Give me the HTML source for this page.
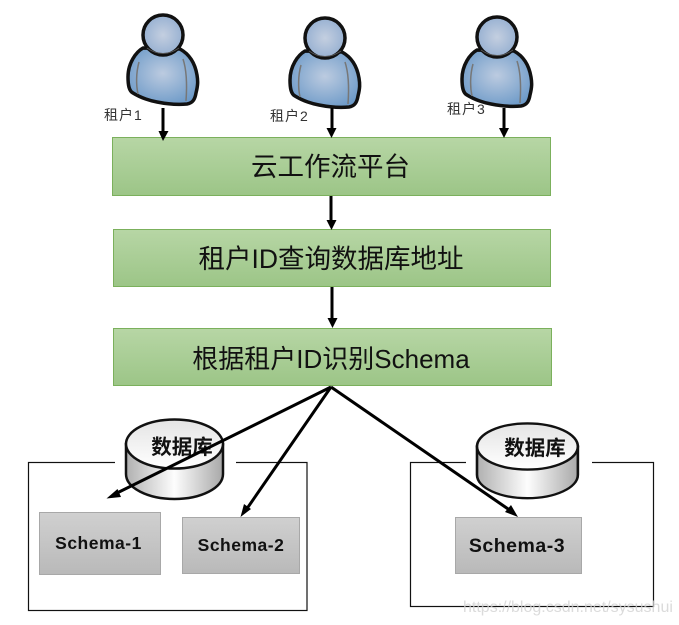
<!DOCTYPE html>
<html><head><meta charset="utf-8"><style>
html,body{margin:0;padding:0;background:#fff;width:679px;height:625px;overflow:hidden}
svg{display:block}
text{font-family:"Liberation Sans","Noto Sans CJK SC",sans-serif}
</style></head><body>
<svg width="679" height="625" viewBox="0 0 679 625" xmlns="http://www.w3.org/2000/svg">
<defs>
<linearGradient id="g" x1="0" y1="0" x2="0" y2="1"><stop offset="0" stop-color="#b7d6a5"/><stop offset="1" stop-color="#9cc587"/></linearGradient>
<linearGradient id="s" x1="0" y1="0" x2="0" y2="1"><stop offset="0" stop-color="#d0d0d0"/><stop offset="1" stop-color="#b9b9b9"/></linearGradient>
<linearGradient id="c" x1="0" y1="0" x2="1" y2="0"><stop offset="0" stop-color="#b0b0b0"/><stop offset=".5" stop-color="#fdfdfd"/><stop offset="1" stop-color="#a8a8a8"/></linearGradient>
<linearGradient id="ct" x1="0" y1="0" x2="0" y2="1"><stop offset="0" stop-color="#e4e4e4"/><stop offset="1" stop-color="#fff"/></linearGradient>
<radialGradient id="b" cx=".5" cy=".45" r=".6"><stop offset="0" stop-color="#bccbe0"/><stop offset="1" stop-color="#6d9ac8"/></radialGradient>
<radialGradient id="h" cx=".5" cy=".5" r=".6"><stop offset="0" stop-color="#c4cfe0"/><stop offset="1" stop-color="#8fabcf"/></radialGradient>
<g id="p">
<path d="M-20 13C-27 17-35 28-35 42C-35 50-34 56-30 58C-22 63-12 66-6 67C4 69 14 70 24 69C30 68 32 64 33 58C35 50 35 46 34 40C32 28 26 19 17 14Z" fill="url(#b)" stroke="#111" stroke-width="3.500" stroke-linejoin="round"/>
<path d="M-24 27C-27 38-27 50-25 59M20 24C24 36 24 52 23 66" fill="none" stroke="#777" stroke-width="1.500"/>
<circle cx="0" cy="0" r="20" fill="url(#h)" stroke="#111" stroke-width="3.500"/>
<path d="M-16 13Q0 24 16 13" fill="none" stroke="#555" stroke-width="1"/>
</g>
<g id="cy">
<path d="M0 25V55C0 69 22 80 48.500 80C75 80 97 69 97 55V25Z" fill="url(#c)" stroke="#111" stroke-width="2.500"/>
<ellipse cx="48.500" cy="25" rx="48.500" ry="24.500" fill="url(#ct)" stroke="#111" stroke-width="2.500"/>
</g>
</defs>

<use href="#p" x="163" y="35"/>
<use href="#p" x="325" y="38"/>
<use href="#p" x="497" y="37"/>

<g fill="#333" font-size="14" letter-spacing="1">
<text x="104" y="120">租户1</text>
<text x="270" y="121">租户2</text>
<text x="447" y="114">租户3</text>
</g>

<g fill="url(#g)" stroke="#7bb05c" stroke-width="1">
<rect x="112.500" y="137.500" width="438" height="58"/>
<rect x="113.500" y="229.500" width="437" height="57"/>
<rect x="113.500" y="328.500" width="438" height="57"/>
</g>
<g fill="#111" text-anchor="middle" font-size="26.500">
<text x="330.500" y="176">云工作流平台</text>
<text x="331" y="268">租户ID查询数据库地址</text>
<text x="331" y="368" font-size="26">根据租户ID识别Schema</text>
</g>

<rect x="28.500" y="462.500" width="278.500" height="148" fill="#fff" stroke="#111" stroke-width="1.200"/>
<rect x="410.500" y="462.500" width="243" height="144" fill="#fff" stroke="#111" stroke-width="1.200"/>
<rect x="115" y="418" width="121" height="84" fill="#fff"/>
<rect x="466" y="418" width="126" height="84" fill="#fff"/>
<use href="#cy" x="126" y="419"/>
<g transform="translate(477 423) scale(1.040 .94)"><use href="#cy"/></g>
<g fill="#111" font-size="20.500" font-weight="bold" text-anchor="middle">
<text x="182" y="454">数据库</text>
<text x="535" y="455">数据库</text>
</g>

<g fill="url(#s)" stroke="#a8a8a8" stroke-width="1">
<rect x="39.500" y="512.500" width="121" height="62"/>
<rect x="182.500" y="517.500" width="117" height="56"/>
<rect x="455.500" y="517.500" width="126" height="56"/>
</g>
<g fill="#111" text-anchor="middle" font-weight="bold" font-size="17.500" letter-spacing=".5">
<text x="98.500" y="549">Schema-1</text>
<text x="241" y="551">Schema-2</text>
<text x="517" y="552" font-size="19.500">Schema-3</text>
</g>

<g stroke="#000" stroke-width="3" fill="none">
<path d="M163 108V134M332 108V131M504 108V131M331 196V222M332 287V320"/>
<path d="M331 387L115 494M331 387L246 510M331 387L511 511"/>
</g>
<g fill="#000">
<path d="M158.500 131H168.500L163 141Z"/><path d="M326.500 128H336.500L331.500 138Z"/><path d="M499 128H509L504 138Z"/>
<path d="M326.500 220H336.500L331.500 230Z"/><path d="M327.500 318H337.500L332.500 328Z"/>
<path d="M106.500 498.500L117.500 489L121 497Z"/><path d="M240.500 517L244 504L251 509Z"/><path d="M518 517L505 512L511 505Z"/>
</g>

<text x="463" y="612" font-size="16" fill="#d2d2d2" fill-opacity=".8">https://blog.csdn.net/sysushui</text>
</svg>
</body></html>
